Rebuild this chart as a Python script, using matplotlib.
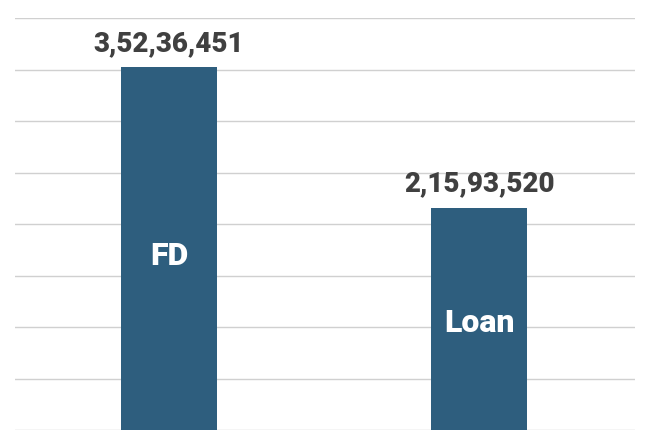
import matplotlib
matplotlib.use("Agg")
import matplotlib.pyplot as plt

categories = ["FD", "Loan"]
values = [35236451, 21593520]
value_labels = ["3,52,36,451", "2,15,93,520"]

BAR_COL = "#2E5E7E"
TXT_COL = "#404040"

fig = plt.figure(figsize=(6.46, 4.48), dpi=100)
ax = fig.add_axes([15/646, 18/448, 620/646, 412/448])

x = list(range(len(categories)))
ax.bar(x, values, width=0.31, color=BAR_COL, zorder=3)
for xi, v, lab, cat in zip(x, values, value_labels, categories):
    ax.text(xi, v + 1.0e6, lab, ha="center", va="bottom", fontsize=20,
            fontweight="heavy", color=TXT_COL, family="Roboto")
    ax.text(xi, v * 0.48, cat, ha="center", va="center", fontsize=23,
            fontweight="heavy", color="white", family="Roboto")

ax.set_xlim(-0.497, 1.503)
ax.set_ylim(0, 40e6)
ax.set_yticks([i * 5e6 for i in range(9)])
ax.yaxis.grid(True, color="#d0d0d0", linewidth=1, zorder=0)
ax.set_xticks([])
ax.tick_params(left=False, labelleft=False)
for s in ax.spines.values():
    s.set_visible(False)

fig.savefig("out.png", dpi=100)
